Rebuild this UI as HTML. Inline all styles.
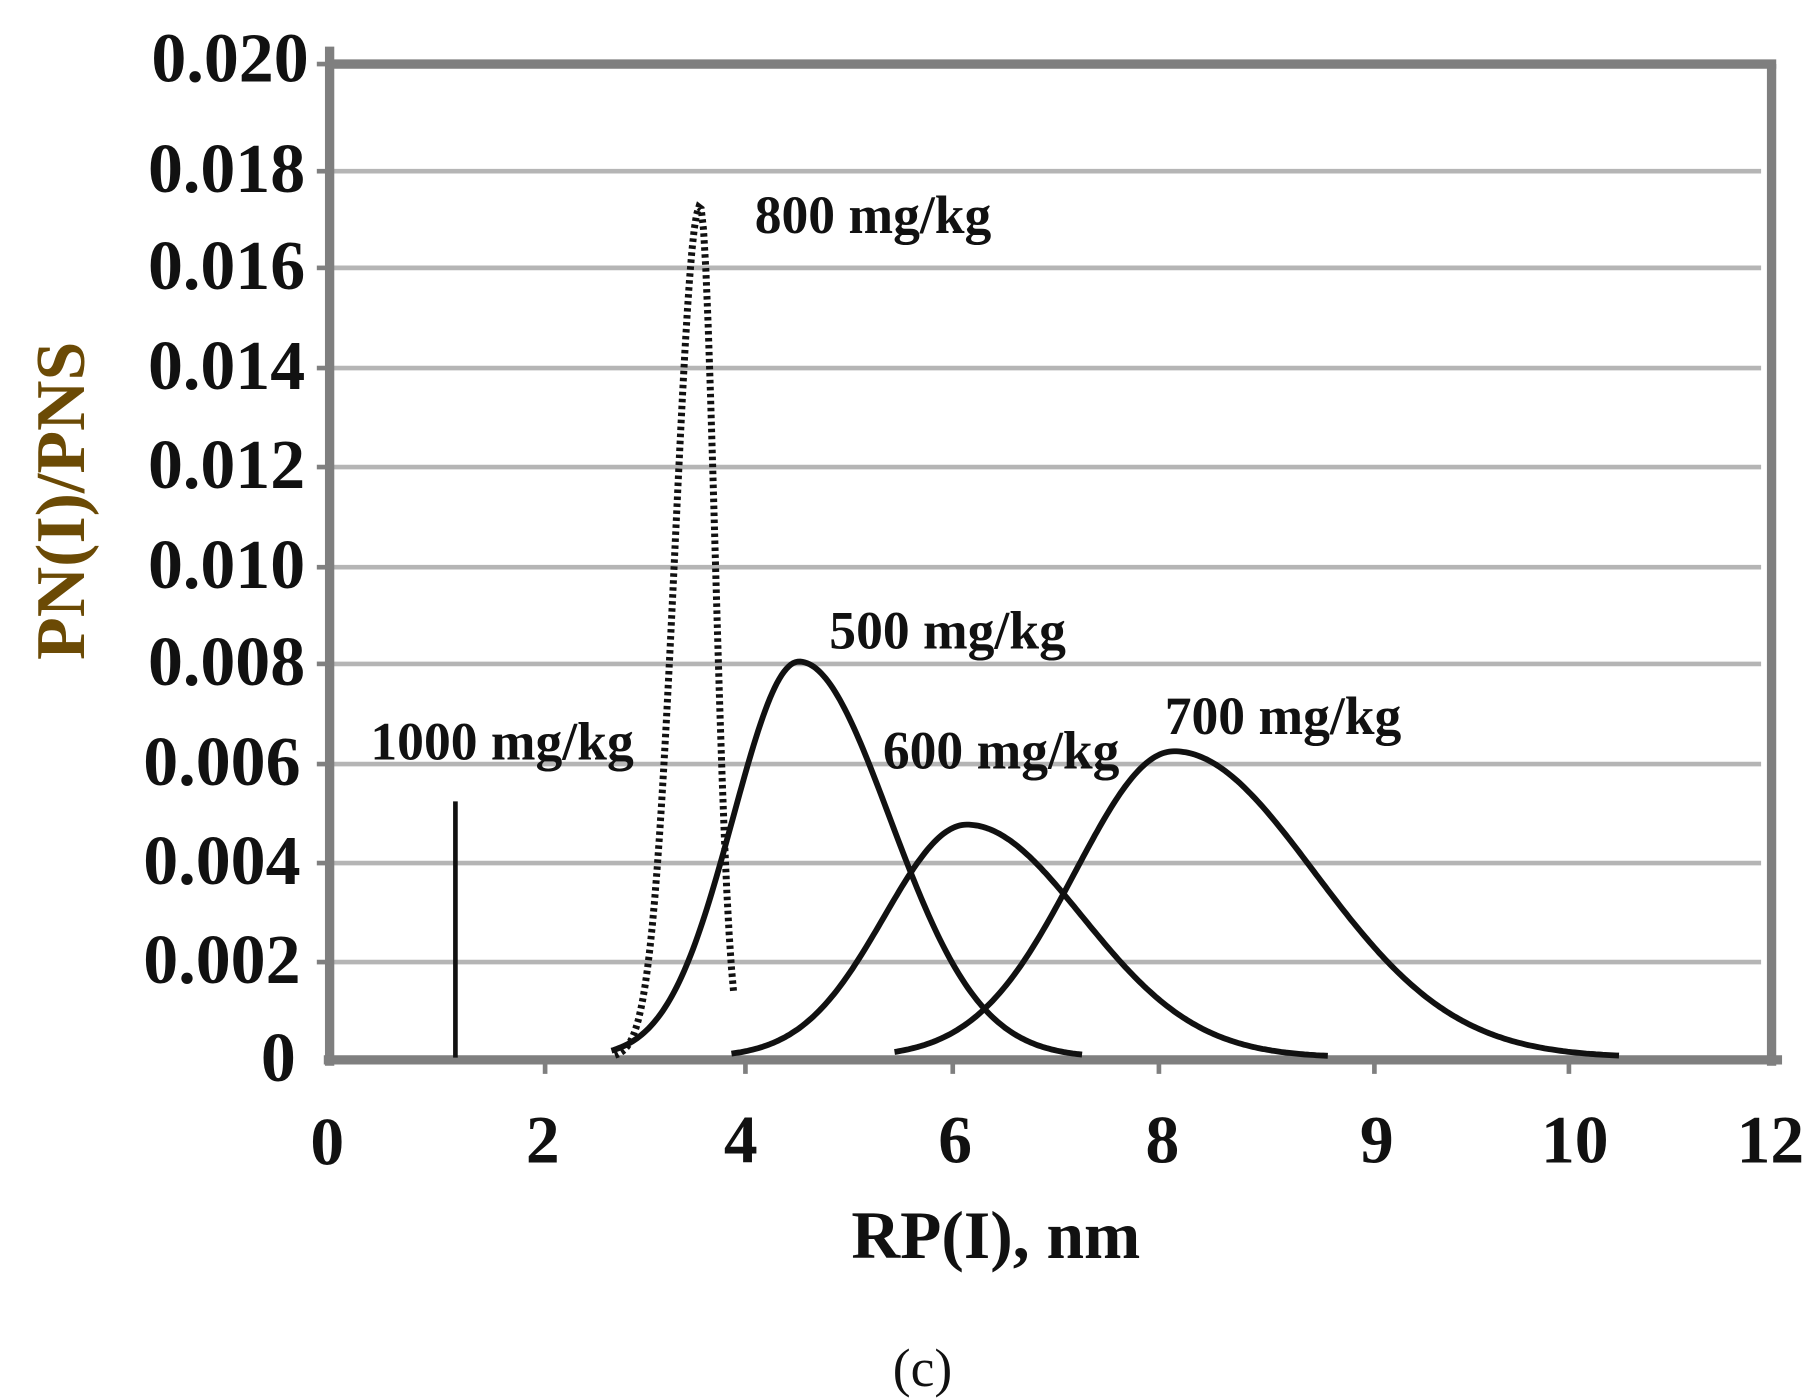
<!DOCTYPE html>
<html><head><meta charset="utf-8"><style>
html,body{margin:0;padding:0;background:#fff;}
svg{display:block;}
text{font-family:"Liberation Serif",serif;font-weight:bold;fill:#111;}
</style></head><body>
<svg id="s" width="1817" height="1400" viewBox="0 0 1560 1202" preserveAspectRatio="none" xmlns="http://www.w3.org/2000/svg">
<g stroke="#b5b5b5" stroke-width="4">
<line x1="283" y1="147" x2="1512" y2="147"/>
<line x1="283" y1="230" x2="1512" y2="230"/>
<line x1="283" y1="316" x2="1512" y2="316"/>
<line x1="283" y1="401" x2="1512" y2="401"/>
<line x1="283" y1="487" x2="1512" y2="487"/>
<line x1="283" y1="570" x2="1512" y2="570"/>
<line x1="283" y1="656" x2="1512" y2="656"/>
<line x1="283" y1="741" x2="1512" y2="741"/>
<line x1="283" y1="826" x2="1512" y2="826"/>
</g>
<g stroke="#7f7f7f" stroke-width="8" fill="none">
<line x1="283" y1="55" x2="1525" y2="55"/>
<line x1="1521" y1="55" x2="1521" y2="915"/>
<line x1="283" y1="40" x2="283" y2="915"/>
<line x1="278" y1="910" x2="1530" y2="910"/>
</g>
<g stroke="#7f7f7f" stroke-width="4">
<line x1="272" y1="55" x2="283" y2="55"/><line x1="272" y1="147" x2="283" y2="147"/>
<line x1="272" y1="230" x2="283" y2="230"/><line x1="272" y1="316" x2="283" y2="316"/>
<line x1="272" y1="401" x2="283" y2="401"/><line x1="272" y1="487" x2="283" y2="487"/>
<line x1="272" y1="570" x2="283" y2="570"/><line x1="272" y1="656" x2="283" y2="656"/>
<line x1="272" y1="741" x2="283" y2="741"/><line x1="272" y1="826" x2="283" y2="826"/>
<line x1="468" y1="910" x2="468" y2="922"/><line x1="640" y1="910" x2="640" y2="922"/>
<line x1="818" y1="910" x2="818" y2="922"/><line x1="995" y1="910" x2="995" y2="922"/>
<line x1="1180" y1="910" x2="1180" y2="922"/><line x1="1347" y1="910" x2="1347" y2="922"/>
</g>
<g font-size="60" text-anchor="end">
<text x="265" y="70">0.020</text><text x="262" y="165">0.018</text>
<text x="262" y="248">0.016</text><text x="262" y="334">0.014</text>
<text x="262" y="419">0.012</text><text x="262" y="505">0.010</text>
<text x="262" y="588">0.008</text><text x="258" y="674">0.006</text>
<text x="258" y="759">0.004</text><text x="258" y="844">0.002</text>
<text x="254" y="928">0</text>
</g>
<g font-size="58" text-anchor="middle">
<text x="281" y="1000">0</text><text x="466" y="998">2</text><text x="636" y="998">4</text>
<text x="820" y="998">6</text><text x="998" y="998">8</text><text x="1182" y="998">9</text>
<text x="1352" y="998">10</text><text x="1520" y="998">12</text>
</g>
<text x="855" y="1080" font-size="58" text-anchor="middle">RP(I), nm</text>
<text x="792" y="1190" font-size="46" text-anchor="middle" style="font-weight:normal">(c)</text>
<text transform="translate(72,430) rotate(-90)" font-size="60" text-anchor="middle" style="fill:#6b4a05">PN(I)/PNS</text>
<g font-size="46">
<text x="648" y="200">800 mg/kg</text>
<text x="712" y="557">500 mg/kg</text>
<text x="318" y="652">1000 mg/kg</text>
<text x="758" y="660">600 mg/kg</text>
<text x="1000" y="630">700 mg/kg</text>
</g>
<line x1="391" y1="688" x2="391" y2="908" stroke="#111" stroke-width="4"/>
<g id="curves" fill="none" stroke="#111" stroke-width="5"></g>
</svg>
<script>
function curve(p,h,wl,wr,x0,x1,dash){
 var d="";for(var x=x0;x<=x1;x+=2){var w=x<p?wl:wr;var y=908-h*Math.exp(-Math.pow((x-p)/w,2));d+=(d?"L":"M")+x+","+y.toFixed(1);}
 var e=document.createElementNS("http://www.w3.org/2000/svg","path");e.setAttribute("d",d);
 if(dash){e.setAttribute("stroke-dasharray","3,3");e.setAttribute("stroke-width","6");}
 document.getElementById("curves").appendChild(e);}
curve(686,340,80,110,525,930);
curve(830,200,100,140,628,1140);
curve(1008,263,120,170,768,1390);
curve(601,731,30,18,528,630,true);
</script>
</body></html>
